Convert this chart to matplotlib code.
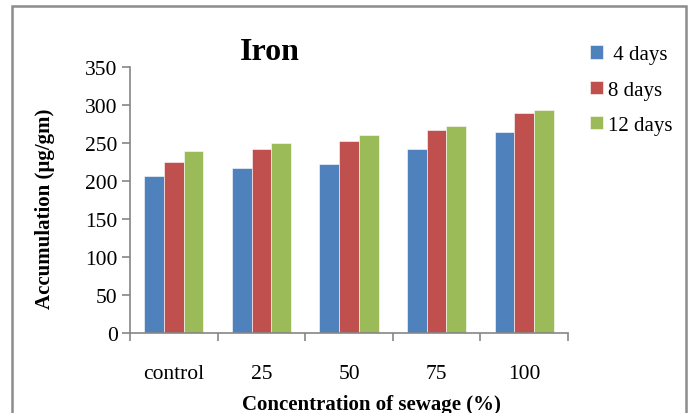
import numpy as np
import matplotlib
matplotlib.use('Agg')
import matplotlib.pyplot as plt
from matplotlib.patches import Rectangle

plt.rcParams['font.family'] = ['Liberation Serif', 'DejaVu Serif']

categories = ['control', '25', '50', '75', '100']
series_names = [' 4 days', '8 days', '12 days']
days4 = [207, 217, 222, 242, 264]
days8 = [225, 242, 252, 267, 289]
days12 = [239, 250, 261, 272, 294]
colors = ['#4F81BD', '#C0504D', '#9BBB59']

W, H = 696, 414
fig = plt.figure(figsize=(W / 100, H / 100), dpi=100)
ax = fig.add_axes([130 / W, 1 - 334 / H, 438 / W, 266 / H])

x = np.arange(len(categories))
bw = 0.225
for i, (vals, name, c) in enumerate(zip([days4, days8, days12], series_names, colors)):
    ax.bar(x + (i - 1) * bw, vals, bw, color=c, edgecolor='white', linewidth=0.4, label=name)

ax.set_xlim(-0.5, len(categories) - 0.5)
ax.set_ylim(0, 350)
ax.set_yticks(range(0, 351, 50))
ax.set_xticks(x)
ax.set_xticklabels(categories)
ax.set_xticks(np.arange(-0.5, len(categories), 1), minor=True)
ax.tick_params(axis='x', which='major', length=0, pad=22, labelsize=15.5)
ax.tick_params(axis='x', which='minor', length=6, width=1.2, color='#868686', direction='out')
ax.tick_params(axis='y', length=6, width=1.2, color='#868686', labelsize=15.5, pad=3)

for s in ['top', 'right']:
    ax.spines[s].set_visible(False)
for s in ['left', 'bottom']:
    ax.spines[s].set_color('#868686')
    ax.spines[s].set_linewidth(1.2)

ax.set_ylabel('Accumulation (µg/gm)', fontsize=15, fontweight='bold')
ax.yaxis.set_label_coords(-75 / 438, 0.47)
fig.text(371 / W, 1 - 405 / H, 'Concentration of sewage (%)', fontsize=15,
         fontweight='bold', ha='center', va='center')
fig.text(270 / W, 1 - 52 / H, 'Iron', fontsize=23, fontweight='bold',
         ha='center', va='center')

fig.legend(loc='upper left', bbox_to_anchor=(582 / W, 1 - 38 / H), frameon=False,
           fontsize=15, handlelength=0.6, handleheight=0.6, handletextpad=0.25,
           labelspacing=0.78, borderaxespad=0)

# outer chart frame
fig.patches.append(Rectangle((12 / W, -0.05), 674 / W, 1.05 - 7 / H,
                             transform=fig.transFigure, fill=False,
                             edgecolor='#8C8C8C', linewidth=1.8))

fig.savefig('out.png', dpi=100)
